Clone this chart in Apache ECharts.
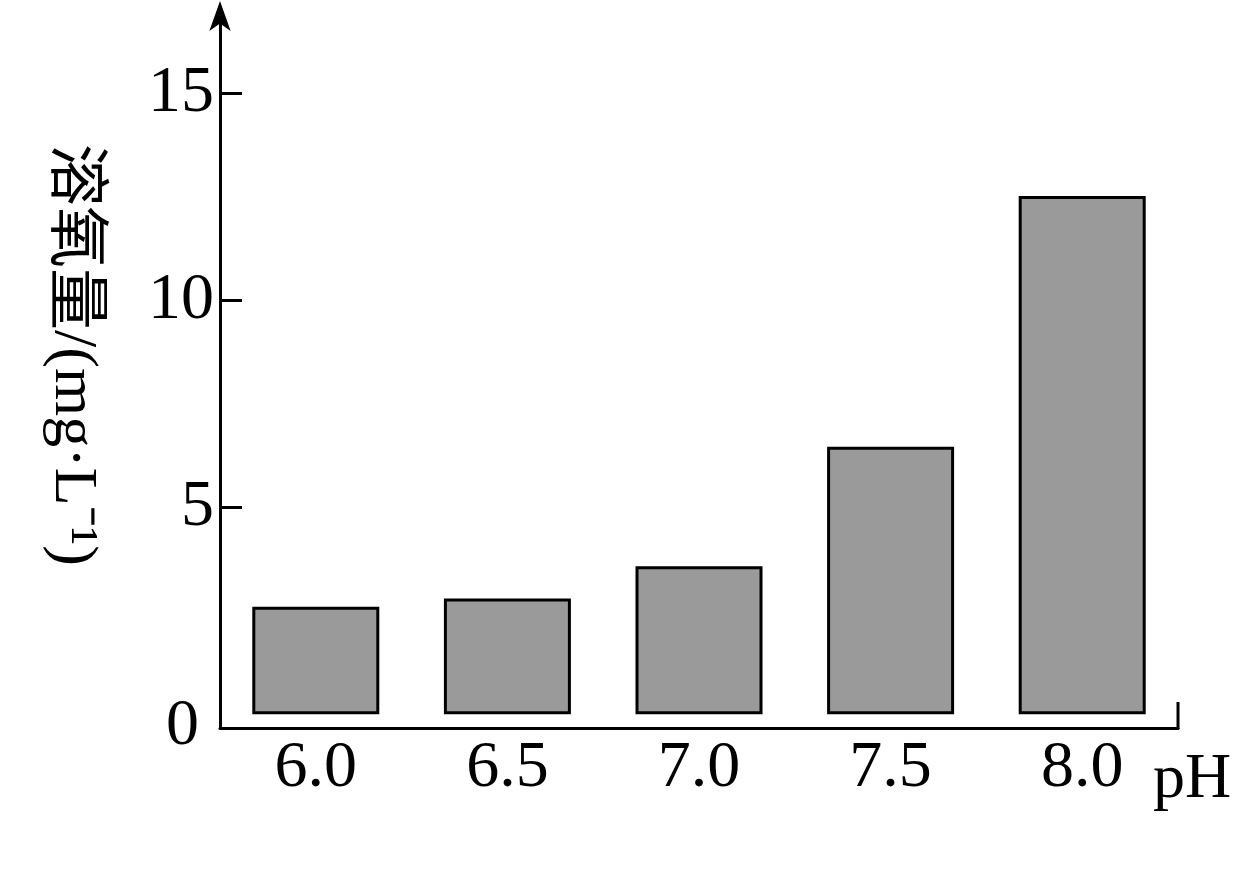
<!DOCTYPE html>
<html><head><meta charset="utf-8">
<script src="https://cdn.jsdelivr.net/npm/echarts@6/dist/echarts.min.js"></script>
<style>html,body{margin:0;padding:0;background:#fff}#c{width:1245px;height:880px}</style>
</head><body><div id="c"></div>
<script>
const categories = ['6.0','6.5','7.0','7.5','8.0'];
const values = [2.6, 2.8, 3.58, 6.47, 12.53];
const yTicks = [5, 10, 15];
const serif = '"Liberation Serif","DejaVu Serif",serif';
const chart = echarts.init(document.getElementById('c'));
chart.setOption({
  animation:false,
  grid:{left:220,right:67,top:11,bottom:152},
  xAxis:{type:'category',data:categories,
    axisLine:{onZero:false,lineStyle:{color:'#000',width:3}},axisTick:{show:false},
    axisLabel:{color:'#000',fontFamily:serif,fontSize:66,margin:8}},
  yAxis:{type:'value',min:-0.33,max:17,
    splitLine:{show:false},
    axisLine:{show:true,symbol:['none','arrow'],symbolSize:[16,30],symbolOffset:[0,10],lineStyle:{color:'#000',width:3}},
    axisTick:{show:true,inside:true,length:22,lineStyle:{width:3,color:'#000'},customValues:yTicks},
    axisLabel:{color:'#000',fontFamily:serif,fontSize:66,margin:6,customValues:yTicks}},
  series:[{type:'bar',data:values,barWidth:127,
    itemStyle:{color:'#9a9a9a',borderColor:'#000',borderWidth:3}}],
  graphic:[
    {type:'text',left:166,top:694,style:{text:'0',font:'66px '+serif,fill:'#000'}},
    {type:'text',left:1153,top:748,style:{text:'pH',font:'64px '+serif,fill:'#000'}},
    {type:'line',shape:{x1:1178,y1:702,x2:1178,y2:729},style:{stroke:'#000',lineWidth:3}},
    {type:'text',x:72,y:355,rotation:-Math.PI/2,
      style:{text:'溶氧量/(mg·L⁻¹)',font:'62px "Liberation Serif","Noto Sans CJK SC",serif',fill:'#000',align:'center',verticalAlign:'middle'}}
  ]
});
</script></body></html>
